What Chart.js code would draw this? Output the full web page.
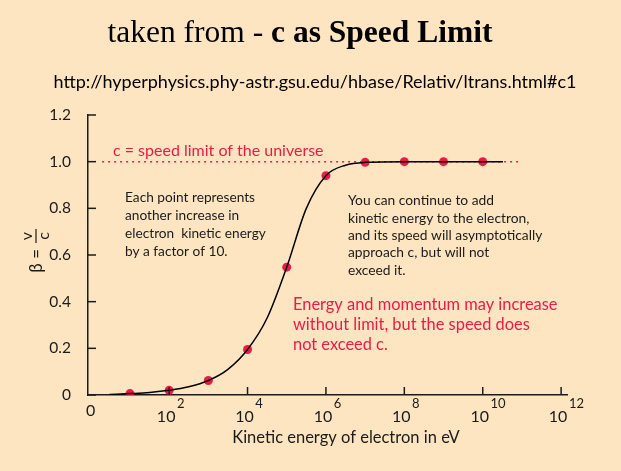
<!DOCTYPE html>
<html>
<head>
<meta charset="utf-8">
<script src="https://cdn.jsdelivr.net/npm/chart.js@4"></script>
<style>
  html, body { margin: 0; padding: 0; background: #fde5c1; }
  #wrap { width: 621px; height: 471px; }
</style>
</head>
<body>
<div id="wrap"><canvas id="chart" width="621" height="471"></canvas></div>
<script>
// points: each one is 10x more kinetic energy (eV)
const pointEnergy = [1e1, 1e2, 1e3, 1e4, 1e5, 1e6, 1e7, 1e8, 1e9, 1e10];
const pointBeta = [0.006, 0.02, 0.062, 0.195, 0.548, 0.94, 0.997, 1.0, 1.0, 1.0];

// smooth curve through the points
const curveEnergy = [3, 10, 32, 100, 316, 1e3, 3.16e3, 1e4, 3.16e4, 1e5, 3.16e5, 1e6, 3.16e6, 1e7, 1e8, 1e9, 1e10, 3.3e10];
const curveBeta = [0.002, 0.006, 0.011, 0.02, 0.035, 0.062, 0.11, 0.195, 0.33, 0.548, 0.8, 0.94, 0.985, 0.997, 1.0, 1.0, 1.0, 1.0];

// speed limit line
const limitEnergy = [1.95, 9e10];
const limitBeta = [1, 1];

const yTicks = [0, 0.2, 0.4, 0.6, 0.8, 1.0, 1.2];
const xTickExp = [0, 2, 4, 6, 8, 10, 12];

const red = '#ec1a48';
const ink = '#1b1b1b';
const sans = 'Lato, "Open Sans", sans-serif';

function toXY(xs, ys) {
    return xs.map((x, i) => ({ x: x, y: ys[i] }));
}

const extras = {
    id: 'extras',
    afterDraw(chart) {
        const ctx = chart.ctx;
        const xs = chart.scales.x;
        const ys = chart.scales.y;
        const area = chart.chartArea;
        ctx.save();

        // title
        ctx.fillStyle = '#000';
        ctx.textBaseline = 'alphabetic';
        ctx.textAlign = 'left';
        const t1 = 'taken from - ';
        const t2 = 'c as Speed Limit';
        ctx.font = '31.5px "Liberation Serif", serif';
        const w1 = ctx.measureText(t1).width;
        ctx.font = 'bold 31.5px "Liberation Serif", serif';
        const w2 = ctx.measureText(t2).width;
        let tx = 300 - (w1 + w2) / 2;
        ctx.font = '31.5px "Liberation Serif", serif';
        ctx.fillText(t1, tx, 42);
        ctx.font = 'bold 31.5px "Liberation Serif", serif';
        ctx.fillText(t2, tx + w1, 42);

        // source url
        ctx.font = '18px ' + sans;
        ctx.textAlign = 'center';
        ctx.textBaseline = 'middle';
        ctx.fillText('http://hyperphysics.phy-astr.gsu.edu/hbase/Relativ/ltrans.html#c1', 315, 82);

        // inward tick marks
        ctx.strokeStyle = ink;
        ctx.lineWidth = 1.5;
        yTicks.forEach(v => {
            const py = ys.getPixelForValue(v);
            ctx.beginPath();
            ctx.moveTo(area.left, py);
            ctx.lineTo(area.left + 8, py);
            ctx.stroke();
        });
        xTickExp.forEach(e => {
            if (e === 0) return;
            const px = xs.getPixelForValue(Math.pow(10, e));
            ctx.beginPath();
            ctx.moveTo(px, area.bottom);
            ctx.lineTo(px, area.bottom - 8);
            ctx.stroke();
        });

        // x tick labels with superscripts
        ctx.fillStyle = ink;
        xTickExp.forEach(e => {
            const px = xs.getPixelForValue(Math.pow(10, e));
            ctx.font = '16px ' + sans;
            ctx.textAlign = 'center';
            if (e === 0) {
                ctx.fillText('0', px, 411);
                return;
            }
            ctx.fillText('10', px - 3, 417);
            const w = ctx.measureText('10').width;
            ctx.textAlign = 'left';
            ctx.font = '13px ' + sans;
            ctx.fillText(String(e), px - 3 + w / 2 + 1.5, 404);
        });

        // axis titles
        ctx.font = '16.5px ' + sans;
        ctx.textAlign = 'center';
        ctx.fillText('Kinetic energy of electron in eV', 346, 438);

        ctx.save();
        ctx.translate(38, 256);
        ctx.rotate(-Math.PI / 2);
        ctx.textBaseline = 'alphabetic';
        ctx.font = '17px ' + sans;
        ctx.textAlign = 'right';
        ctx.fillText('\u03b2 =', 7, 4);
        ctx.textAlign = 'center';
        ctx.font = '16px ' + sans;
        ctx.fillText('v', 20, -6);
        ctx.fillText('c', 20, 11);
        ctx.lineWidth = 1.2;
        ctx.beginPath();
        ctx.moveTo(13, -2);
        ctx.lineTo(27, -2);
        ctx.stroke();
        ctx.restore();

        // annotations
        ctx.textBaseline = 'middle';
        ctx.textAlign = 'left';
        ctx.fillStyle = red;
        ctx.font = '16px ' + sans;
        ctx.fillText('c = speed limit of the universe', 113, 151);

        ctx.fillStyle = ink;
        ctx.font = '13.7px ' + sans;
        ['Each point represents', 'another increase in', 'electron  kinetic energy', 'by a factor of 10.']
            .forEach((s, i) => ctx.fillText(s, 125, 198 + i * 17.7));
        ctx.font = '13.8px ' + sans;
        ['You can continue to add', 'kinetic energy to the electron,', 'and its speed will asymptotically',
         'approach c, but will not', 'exceed it.']
            .forEach((s, i) => ctx.fillText(s, 348, 201 + i * 17.3));

        ctx.fillStyle = red;
        ctx.font = '16.4px ' + sans;
        ['Energy and momentum may increase', 'without limit, but the speed does', 'not exceed c.']
            .forEach((s, i) => ctx.fillText(s, 293, 305 + i * 20));

        ctx.restore();
    }
};

new Chart(document.getElementById('chart'), {
    type: 'scatter',
    data: {
        datasets: [
            {
                data: toXY(curveEnergy, curveBeta),
                showLine: true,
                borderColor: '#000',
                borderWidth: 1.5,
                pointRadius: 0,
                cubicInterpolationMode: 'monotone'
            },
            {
                data: toXY(limitEnergy, limitBeta),
                showLine: true,
                borderColor: red,
                borderWidth: 1.5,
                borderDash: [2, 4],
                pointRadius: 0
            },
            {
                data: toXY(pointEnergy, pointBeta),
                showLine: false,
                pointRadius: 4.5,
                pointBackgroundColor: red,
                pointBorderWidth: 0
            }
        ]
    },
    options: {
        responsive: false,
        animation: false,
        events: [],
        layout: { padding: { left: 0, top: 115, right: 54, bottom: 76 } },
        plugins: {
            legend: { display: false },
            tooltip: { enabled: false }
        },
        scales: {
            x: {
                type: 'logarithmic',
                min: Math.pow(10, -0.07),
                max: Math.pow(10, 12.15),
                grid: { display: false },
                border: { display: true, color: ink, width: 1.5 },
                ticks: { display: false },
                afterFit: s => { s.height = 0; }
            },
            y: {
                min: 0,
                max: 1.2,
                afterBuildTicks: s => { s.ticks = yTicks.map(v => ({ value: v })); },
                grid: { display: false },
                border: { display: true, color: ink, width: 1.5 },
                ticks: {
                    padding: 9,
                    color: ink,
                    font: { family: sans, size: 15.5 },
                    callback: v => (v === 0 ? '0' : v.toFixed(1))
                },
                afterFit: s => { s.width = 88; }
            }
        }
    },
    plugins: [extras]
});
</script>
</body>
</html>
